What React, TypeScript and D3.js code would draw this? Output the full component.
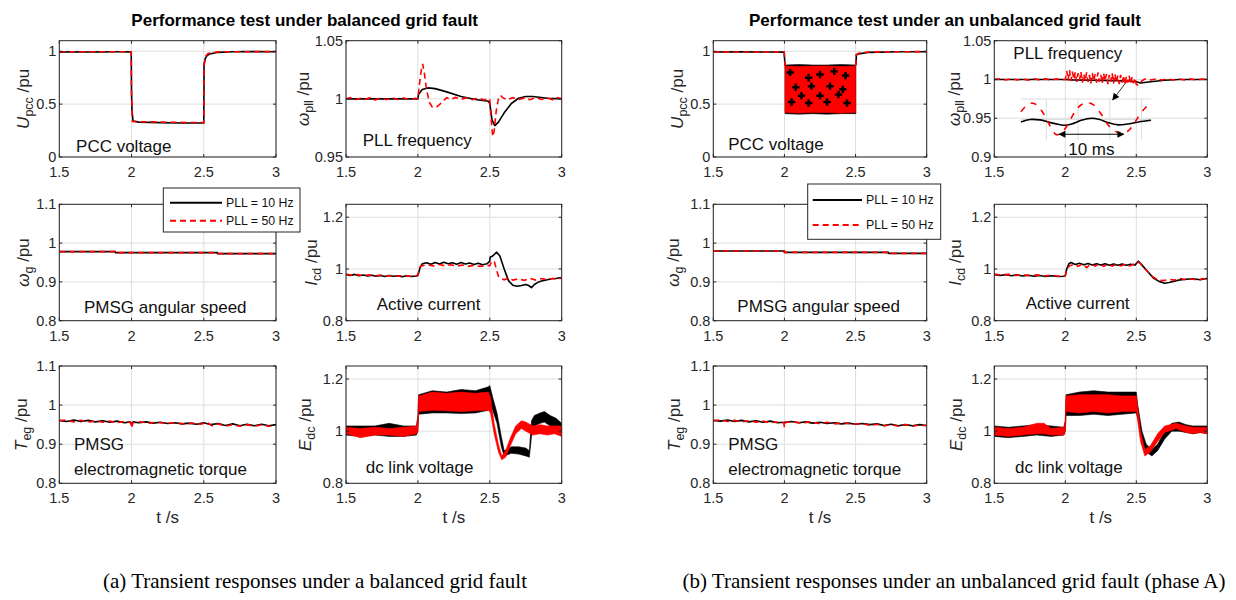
import React from 'react';
import * as d3 from 'd3';

// ===================== DATA =====================
const timeTicks = [1.5, 2, 2.5, 3];
const upccTicks = [0, 0.5, 1];
const pllTicksA = [0.95, 1, 1.05];
const pllTicksB = [0.9, 0.95, 1, 1.05];
const unitTicks = [0.8, 0.9, 1, 1.1];
const wideTicks = [0.8, 1, 1.2];
const legendLabels = ['PLL = 10 Hz', 'PLL = 50 Hz'];
const titles = ['Performance test under balanced grid fault', 'Performance test under an unbalanced grid fault'];
const captions = ['(a) Transient responses under a balanced grid fault', '(b) Transient responses under an unbalanced grid fault (phase A)'];

// ---- (a) balanced fault ----
const upccBalK = [[1.5,0.992],[1.6,0.995],[1.7,0.993],[1.8,0.994],[1.9,0.995],[1.998,0.994],[2.0,0.6],[2.003,0.45],[2.01,0.34],[2.05,0.33],[2.2,0.325],[2.35,0.322],[2.5,0.322],[2.502,0.88],[2.51,0.93],[2.52,0.955],[2.54,0.975],[2.6,0.99],[2.7,0.995],[2.8,0.997],[3.0,0.995]];
const upccBalR = [[1.5,0.995],[1.7,0.995],[1.998,0.996],[2.0,0.6],[2.006,0.335],[2.2,0.33],[2.5,0.325],[2.502,0.85],[2.51,0.95],[2.53,0.98],[2.6,0.995],[3.0,0.997]];

const pllBalK = [[1.5,1.0],[1.999,1.0],[2.005,1.004],[2.03,1.008],[2.07,1.0094],[2.12,1.0088],[2.2,1.006],[2.3,1.002],[2.4,0.9995],[2.49,0.998],[2.5,0.996],[2.515,0.982],[2.535,0.977],[2.56,0.98],[2.6,0.988],[2.65,0.996],[2.7,1.0005],[2.75,1.002],[2.8,1.002],[2.9,1.0005],[3.0,1.0]];
const pllBalR = [[1.5,1.0],[1.53,1.001],[1.56,0.999],[1.6,1.0005],[1.63,0.9995],[1.67,1.001],[1.7,0.999],[1.74,1.0008],[1.78,0.9993],[1.82,1.001],[1.86,0.9995],[1.9,1.0008],[1.94,0.9992],[1.98,1.0005],[2.0,1.0],[2.01,1.012],[2.025,1.026],[2.033,1.03],[2.045,1.022],[2.06,1.008],[2.08,0.997],[2.1,0.993],[2.125,0.9925],[2.15,0.995],[2.18,0.9985],[2.2,1.001],[2.23,0.9995],[2.26,1.0012],[2.3,0.9995],[2.34,1.001],[2.38,0.9993],[2.42,1.001],[2.46,0.999],[2.49,1.0005],[2.5,0.999],[2.508,0.985],[2.52,0.9675],[2.53,0.972],[2.545,0.99],[2.56,1.0],[2.575,1.003],[2.59,1.001],[2.62,0.9992],[2.66,1.001],[2.7,0.9995],[2.74,1.0008],[2.78,0.9993],[2.82,1.001],[2.86,0.9995],[2.9,1.0008],[2.94,0.9992],[2.97,1.001],[3.0,1.0]];

const speedBalK = [[1.5,0.978],[1.887,0.978],[1.887,0.9755],[2.594,0.9755],[2.594,0.973],[3.0,0.973]];
const speedBalR = [[1.5,0.978],[1.887,0.978],[1.887,0.9755],[2.594,0.9755],[2.594,0.973],[3.0,0.973]];

const icdBalK = [[1.5,0.978],[1.53,0.975],[1.56,0.979],[1.59,0.974],[1.62,0.977],[1.65,0.973],[1.68,0.976],[1.71,0.972],[1.74,0.975],[1.77,0.971],[1.8,0.975],[1.83,0.972],[1.86,0.974],[1.89,0.97],[1.92,0.974],[1.95,0.971],[1.99,0.973],[2.0,0.975],[2.015,1.005],[2.03,1.02],[2.06,1.024],[2.09,1.018],[2.12,1.025],[2.15,1.019],[2.18,1.026],[2.21,1.02],[2.24,1.024],[2.27,1.018],[2.3,1.025],[2.33,1.019],[2.36,1.023],[2.39,1.017],[2.42,1.022],[2.45,1.016],[2.48,1.02],[2.5,1.03],[2.502,1.045],[2.52,1.05],[2.548,1.065],[2.57,1.05],[2.6,1.0],[2.63,0.955],[2.66,0.937],[2.69,0.933],[2.72,0.936],[2.75,0.94],[2.77,0.936],[2.79,0.928],[2.81,0.94],[2.84,0.95],[2.87,0.955],[2.9,0.958],[2.93,0.962],[2.96,0.963],[3.0,0.967]];
const icdBalR = [[1.5,0.98],[1.54,0.976],[1.58,0.978],[1.62,0.974],[1.66,0.977],[1.7,0.973],[1.74,0.976],[1.78,0.973],[1.82,0.975],[1.86,0.972],[1.9,0.975],[1.95,0.972],[1.99,0.974],[2.0,0.978],[2.01,1.005],[2.03,1.013],[2.07,1.016],[2.11,1.012],[2.15,1.017],[2.19,1.012],[2.23,1.016],[2.27,1.011],[2.31,1.015],[2.35,1.01],[2.39,1.014],[2.43,1.01],[2.47,1.013],[2.5,1.013],[2.51,1.025],[2.53,1.032],[2.545,1.0],[2.56,0.972],[2.58,0.962],[2.6,0.958],[2.63,0.965],[2.66,0.957],[2.7,0.962],[2.74,0.956],[2.78,0.964],[2.82,0.957],[2.86,0.963],[2.9,0.958],[2.94,0.964],[2.97,0.96],[3.0,0.965]];

const teBalK = [[1.5,0.961],[1.55,0.958],[1.6,0.962],[1.65,0.958],[1.7,0.961],[1.75,0.957],[1.8,0.96],[1.85,0.956],[1.9,0.959],[1.95,0.955],[1.99,0.957],[2.0,0.952],[2.01,0.957],[2.05,0.955],[2.1,0.957],[2.15,0.954],[2.2,0.956],[2.25,0.953],[2.3,0.955],[2.35,0.952],[2.4,0.954],[2.45,0.951],[2.5,0.955],[2.55,0.95],[2.6,0.953],[2.65,0.948],[2.7,0.952],[2.75,0.947],[2.8,0.951],[2.85,0.947],[2.9,0.951],[2.95,0.947],[3.0,0.95]];
const teBalR = [[1.5,0.96],[1.55,0.962],[1.6,0.957],[1.65,0.961],[1.7,0.956],[1.75,0.96],[1.8,0.956],[1.85,0.959],[1.9,0.955],[1.95,0.958],[1.995,0.955],[2.0,0.941],[2.01,0.955],[2.06,0.957],[2.12,0.954],[2.18,0.956],[2.24,0.953],[2.3,0.955],[2.36,0.952],[2.42,0.954],[2.48,0.951],[2.52,0.956],[2.56,0.947],[2.6,0.952],[2.65,0.946],[2.7,0.95],[2.75,0.946],[2.8,0.95],[2.85,0.946],[2.9,0.95],[2.95,0.946],[3.0,0.948]];

// dc-link voltage ripple bands: [t, low, high]
const edcBalK = [[1.5,0.985,1.02],[1.6,0.98,1.02],[1.7,0.985,1.02],[1.8,0.98,1.03],[1.9,0.98,1.02],[1.99,0.985,1.02],[2.0,1.0,1.06],[2.005,1.065,1.14],[2.1,1.07,1.155],[2.2,1.07,1.15],[2.3,1.068,1.16],[2.4,1.07,1.155],[2.49,1.08,1.17],[2.5,1.1,1.175],[2.52,1.08,1.13],[2.55,1.03,1.07],[2.58,0.94,0.98],[2.6,0.905,0.925],[2.65,0.915,0.94],[2.7,0.912,0.94],[2.75,0.905,0.935],[2.775,0.9,0.925],[2.79,0.98,1.04],[2.81,1.02,1.06],[2.85,1.03,1.07],[2.88,1.035,1.075],[2.92,1.02,1.06],[2.96,1.01,1.05],[3.0,0.99,1.03]];
const edcBalR = [[1.5,0.99,1.015],[1.6,0.975,1.01],[1.7,0.985,1.015],[1.8,0.985,1.01],[1.9,0.98,1.015],[1.99,0.99,1.02],[2.0,1.0,1.05],[2.005,1.075,1.135],[2.1,1.08,1.15],[2.2,1.078,1.145],[2.3,1.075,1.15],[2.4,1.078,1.145],[2.49,1.08,1.15],[2.505,1.07,1.13],[2.53,0.99,1.03],[2.56,0.92,0.95],[2.583,0.89,0.905],[2.61,0.9,0.925],[2.64,0.94,0.97],[2.68,0.99,1.02],[2.72,1.01,1.04],[2.75,1.0,1.035],[2.8,0.985,1.02],[2.85,0.99,1.025],[2.9,0.985,1.02],[2.95,0.99,1.02],[3.0,0.98,1.02]];

// ---- (b) unbalanced fault ----
const upccUnbPreK = [[1.5,0.993],[1.7,0.994],[1.9,0.993],[1.998,0.992],[2.004,0.87]];
const upccUnbBandK = [[2.004,0.41,0.87],[2.1,0.405,0.875],[2.2,0.41,0.87],[2.3,0.405,0.87],[2.4,0.41,0.875],[2.502,0.41,0.87]];
const upccUnbPostK = [[2.502,0.87],[2.506,0.965],[2.52,0.975],[2.6,0.99],[2.8,0.995],[3.0,0.996]];
const upccUnbCrossK = [[2.04,0.8],[2.17,0.75],[2.25,0.78],[2.35,0.81],[2.43,0.77],[2.08,0.66],[2.19,0.67],[2.32,0.67],[2.41,0.64],[2.12,0.58],[2.25,0.58],[2.38,0.59],[2.05,0.52],[2.17,0.51],[2.3,0.52],[2.44,0.51]];
const upccUnbPreR = [[1.5,0.995],[1.7,0.993],[1.9,0.995],[1.998,0.994],[2.004,0.86]];
const upccUnbBandR = [[2.004,0.42,0.86],[2.1,0.415,0.855],[2.2,0.42,0.86],[2.3,0.42,0.86],[2.4,0.415,0.855],[2.5,0.42,0.86]];
const upccUnbPostR = [[2.5,0.86],[2.505,0.97],[2.53,0.985],[2.6,0.994],[3.0,0.997]];

const pllUnbK = [[1.5,1.0],[2.0,1.0],[2.05,0.9995],[2.2,0.999],[2.35,0.9985],[2.45,0.998],[2.5,0.997],[2.53,0.9955],[2.6,0.997],[2.7,0.999],[2.8,1.0],[3.0,1.0]];
const pllUnbR = [[1.5,1.0],[1.54,1.0008],[1.58,0.9994],[1.62,1.001],[1.66,0.9993],[1.7,1.0006],[1.74,0.9992],[1.78,1.0009],[1.82,0.9994],[1.86,1.0007],[1.9,0.9993],[1.94,1.0008],[1.98,0.9995],[2.0,1.0],[2.01,1.011],[2.02,0.999],[2.03,1.012],[2.04,0.998],[2.05,1.01],[2.06,1.0],[2.07,1.009],[2.08,0.997],[2.09,1.008],[2.1,0.999],[2.11,1.01],[2.12,0.996],[2.13,1.007],[2.14,0.998],[2.15,1.009],[2.16,0.997],[2.17,1.006],[2.18,0.995],[2.19,1.008],[2.2,0.998],[2.21,1.007],[2.22,0.996],[2.23,1.009],[2.24,0.997],[2.25,1.006],[2.26,0.995],[2.27,1.008],[2.28,0.998],[2.29,1.007],[2.3,0.994],[2.31,1.006],[2.32,0.997],[2.33,1.008],[2.34,0.995],[2.35,1.007],[2.36,0.996],[2.37,1.005],[2.38,0.994],[2.39,1.006],[2.4,0.996],[2.41,1.005],[2.42,0.993],[2.43,1.004],[2.44,0.996],[2.45,1.005],[2.46,0.994],[2.47,1.003],[2.48,0.995],[2.49,1.002],[2.5,0.994],[2.51,0.993],[2.53,0.997],[2.56,1.0005],[2.6,0.9993],[2.64,1.0008],[2.68,0.9994],[2.72,1.0007],[2.76,0.9993],[2.8,1.0008],[2.84,0.9994],[2.88,1.0007],[2.92,0.9994],[2.96,1.0006],[3.0,1.0]];

// zoomed detail of the PLL frequency ripple: [ms, pu]
const insetK = [[0,0.9994],[1.4,1.0],[3,0.9999],[4.5,0.9993],[6,0.9988],[6.9,0.9986],[8,0.9989],[9.5,0.9998],[11.1,1.0003],[12.4,1.0],[13.8,0.9992],[15.3,0.9987],[16.8,0.9989],[18.5,0.9994],[20.5,0.9998]];
const insetR = [[0,1.0019],[0.8,1.0033],[1.7,1.004],[2.6,1.0034],[3.6,1.0013],[4.6,0.9984],[5.6,0.9963],[6.6,0.9971],[7.6,0.9994],[8.7,1.0024],[9.7,1.0038],[10.6,1.0041],[11.5,1.0035],[12.7,1.0012],[14.0,0.9982],[15.9,0.9965],[16.9,0.9972],[17.9,0.9992],[19.1,1.002],[20.3,1.0039]];
const insetMsTicks = [4, 9, 14, 19];
const insetPuTicks = [1.0, 1.005];
const periodArrow = [[6.0, 0.9964], [16.2, 0.9964]];
const periodLabel = '10 ms';
const pointerArrow = [[2.432, 0.9973], [2.334, 0.9737]];

const speedUnbK = [[1.5,0.9795],[2.0,0.9795],[2.0,0.976],[2.73,0.976],[2.73,0.9736],[3.0,0.9736]];
const speedUnbR = [[1.5,0.9795],[2.0,0.9795],[2.0,0.976],[2.73,0.976],[2.73,0.9736],[3.0,0.9736]];

const icdUnbK = [[1.5,0.978],[1.54,0.975],[1.58,0.978],[1.62,0.974],[1.66,0.977],[1.7,0.973],[1.74,0.976],[1.78,0.972],[1.82,0.975],[1.86,0.971],[1.9,0.974],[1.95,0.971],[1.99,0.972],[2.0,0.975],[2.01,1.0],[2.025,1.02],[2.04,1.025],[2.07,1.017],[2.1,1.022],[2.13,1.016],[2.16,1.021],[2.19,1.015],[2.22,1.02],[2.25,1.015],[2.28,1.02],[2.31,1.014],[2.34,1.019],[2.37,1.014],[2.4,1.019],[2.43,1.014],[2.46,1.018],[2.49,1.015],[2.515,1.03],[2.54,1.015],[2.58,0.99],[2.62,0.965],[2.66,0.952],[2.7,0.945],[2.73,0.948],[2.77,0.953],[2.81,0.958],[2.85,0.96],[2.9,0.962],[2.95,0.958],[3.0,0.963]];
const icdUnbR = [[1.5,0.98],[1.55,0.976],[1.6,0.979],[1.65,0.975],[1.7,0.978],[1.75,0.974],[1.8,0.977],[1.85,0.973],[1.9,0.976],[1.95,0.972],[2.0,0.974],[2.01,0.998],[2.03,1.012],[2.06,1.018],[2.09,1.01],[2.12,1.02],[2.15,1.005],[2.18,1.019],[2.21,1.011],[2.24,1.02],[2.27,1.01],[2.3,1.018],[2.33,1.011],[2.36,1.019],[2.39,1.012],[2.42,1.017],[2.45,1.011],[2.48,1.018],[2.51,1.028],[2.53,1.02],[2.57,0.995],[2.61,0.972],[2.65,0.958],[2.69,0.955],[2.73,0.96],[2.77,0.957],[2.81,0.963],[2.85,0.958],[2.89,0.962],[2.93,0.957],[2.97,0.963],[3.0,0.96]];

const teUnbK = [[1.5,0.961],[1.55,0.959],[1.6,0.962],[1.65,0.958],[1.7,0.961],[1.75,0.957],[1.8,0.96],[1.85,0.956],[1.9,0.959],[1.95,0.955],[2.0,0.956],[2.05,0.958],[2.1,0.955],[2.15,0.957],[2.2,0.954],[2.25,0.956],[2.3,0.953],[2.35,0.955],[2.4,0.952],[2.45,0.954],[2.5,0.951],[2.55,0.953],[2.6,0.95],[2.65,0.952],[2.7,0.948],[2.75,0.951],[2.8,0.947],[2.85,0.95],[2.9,0.947],[2.95,0.95],[3.0,0.948]];
const teUnbR = [[1.5,0.96],[1.55,0.962],[1.6,0.958],[1.65,0.961],[1.7,0.957],[1.75,0.96],[1.8,0.956],[1.85,0.959],[1.9,0.955],[1.97,0.957],[1.995,0.955],[2.0,0.943],[2.01,0.956],[2.06,0.957],[2.12,0.954],[2.18,0.957],[2.24,0.953],[2.3,0.956],[2.36,0.952],[2.42,0.955],[2.48,0.951],[2.54,0.953],[2.6,0.948],[2.65,0.951],[2.7,0.947],[2.75,0.95],[2.8,0.946],[2.85,0.95],[2.9,0.946],[2.95,0.949],[3.0,0.947]];

const edcUnbK = [[1.5,0.98,1.02],[1.6,0.975,1.015],[1.7,0.98,1.02],[1.8,0.985,1.025],[1.9,0.98,1.02],[1.99,0.985,1.015],[2.0,1.0,1.04],[2.005,1.06,1.14],[2.1,1.06,1.15],[2.2,1.065,1.155],[2.3,1.06,1.15],[2.4,1.065,1.15],[2.5,1.07,1.15],[2.51,1.05,1.1],[2.54,0.96,1.0],[2.57,0.92,0.95],[2.61,0.905,0.93],[2.65,0.925,0.95],[2.7,0.97,1.0],[2.75,1.0,1.03],[2.8,1.0,1.035],[2.85,0.995,1.025],[2.9,0.99,1.02],[2.95,0.995,1.02],[3.0,0.99,1.02]];
const edcUnbR = [[1.5,0.985,1.015],[1.6,0.98,1.01],[1.7,0.985,1.015],[1.8,0.99,1.03],[1.85,0.99,1.03],[1.9,0.985,1.01],[1.99,0.985,1.015],[2.0,1.0,1.04],[2.005,1.075,1.135],[2.1,1.07,1.14],[2.2,1.075,1.14],[2.3,1.07,1.14],[2.4,1.075,1.135],[2.5,1.075,1.135],[2.51,1.04,1.09],[2.53,0.96,1.0],[2.56,0.905,0.93],[2.6,0.92,0.945],[2.65,0.96,0.99],[2.7,0.995,1.02],[2.78,1.01,1.03],[2.85,0.995,1.02],[2.9,0.99,1.015],[2.95,0.995,1.015],[3.0,0.99,1.015]];

// ===================== LAYOUT / STYLE =====================
const W = 1236, H = 600;
const FONT = 'Liberation Sans, Arial, Helvetica, sans-serif';
const SERIF = 'Liberation Serif, Times New Roman, serif';
const INK = '#262626';
const GRID = '#dedede';
const RED = '#ff0000';
const T_DOMAIN = [1.5, 3];
const TICK_FS = 14.5;
const COLS = { aL: [59.3, 276], aR: [346, 561.7], bL: [713.3, 926.7], bR: [994.3, 1207.3] };
const ROWS = [[40.7, 157], [204.3, 320.7], [366, 483.3]];

const panels = [
  { id: 'a1', col: COLS.aL, row: ROWS[0], yDomain: [0, 1.1], yTicks: upccTicks, sym: 'U', sub: 'pcc', lab: 30, note: ['PCC voltage'], noteAt: [1.616, 0.05], k: [upccBalK], r: [upccBalR] },
  { id: 'a2', col: COLS.aR, row: ROWS[0], yDomain: [0.95, 1.05], yTicks: pllTicksA, sym: 'ω', sub: 'pll', lab: 37, note: ['PLL frequency'], noteAt: [1.616, 0.9591], k: [pllBalK], r: [pllBalR] },
  { id: 'a3', col: COLS.aL, row: ROWS[1], yDomain: [0.8, 1.1], yTicks: unitTicks, sym: 'ω', sub: 'g', lab: 30, note: ['PMSG angular speed'], noteAt: [1.671, 0.8206], k: [speedBalK], r: [speedBalR] },
  { id: 'a4', col: COLS.aR, row: ROWS[1], yDomain: [0.8, 1.25], yTicks: wideTicks, sym: 'I', sub: 'cd', lab: 29, note: ['Active current'], noteAt: [1.713, 0.841], k: [icdBalK], r: [icdBalR] },
  { id: 'a5', col: COLS.aL, row: ROWS[2], yDomain: [0.8, 1.1], yTicks: unitTicks, sym: 'T', sub: 'eg', lab: 32, note: ['PMSG', 'electromagnetic torque'], noteAt: [1.602, 0.885], k: [teBalK], r: [teBalR], xlab: true },
  { id: 'a6', col: COLS.aR, row: ROWS[2], yDomain: [0.8, 1.25], yTicks: wideTicks, sym: 'E', sub: 'dc', lab: 35, note: ['dc link voltage'], noteAt: [1.637, 0.841], kb: [edcBalK], rb: [edcBalR], xlab: true },
  { id: 'b1', col: COLS.bL, row: ROWS[0], yDomain: [0, 1.1], yTicks: upccTicks, sym: 'U', sub: 'pcc', lab: 30, note: ['PCC voltage'], noteAt: [1.605, 0.067], k: [upccUnbPreK, upccUnbPostK], kb: [upccUnbBandK], r: [upccUnbPreR, upccUnbPostR], rb: [upccUnbBandR], kx: upccUnbCrossK },
  { id: 'b2', col: COLS.bR, row: ROWS[0], yDomain: [0.9, 1.05], yTicks: pllTicksB, sym: 'ω', sub: 'pll', lab: 34, note: ['PLL frequency'], noteAt: [1.634, 1.026], k: [pllUnbK], r: [pllUnbR], inset: true },
  { id: 'b3', col: COLS.bL, row: ROWS[1], yDomain: [0.8, 1.1], yTicks: unitTicks, sym: 'ω', sub: 'g', lab: 34, note: ['PMSG angular speed'], noteAt: [1.669, 0.823], k: [speedUnbK], r: [speedUnbR] },
  { id: 'b4', col: COLS.bR, row: ROWS[1], yDomain: [0.8, 1.25], yTicks: wideTicks, sym: 'I', sub: 'cd', lab: 33, note: ['Active current'], noteAt: [1.721, 0.844], k: [icdUnbK], r: [icdUnbR] },
  { id: 'b5', col: COLS.bL, row: ROWS[2], yDomain: [0.8, 1.1], yTicks: unitTicks, sym: 'T', sub: 'eg', lab: 33, note: ['PMSG', 'electromagnetic torque'], noteAt: [1.605, 0.885], k: [teUnbK], r: [teUnbR], xlab: true },
  { id: 'b6', col: COLS.bR, row: ROWS[2], yDomain: [0.8, 1.25], yTicks: wideTicks, sym: 'E', sub: 'dc', lab: 32, note: ['dc link voltage'], noteAt: [1.646, 0.841], kb: [edcUnbK], rb: [edcUnbR], xlab: true },
];

const fmt = (v: number) => String(+v.toFixed(2));

function Panel({ p }: { p: any }) {
  const [x0, x1] = p.col;
  const [y0, y1] = p.row;
  const x = d3.scaleLinear().domain(T_DOMAIN).range([x0, x1]);
  const y = d3.scaleLinear().domain(p.yDomain).range([y1, y0]);
  const ln = d3.line<number[]>().x(d => x(d[0])).y(d => y(d[1]));
  const ar = d3.area<number[]>().x(d => x(d[0])).y0(d => y(d[1])).y1(d => y(d[2]));
  const cross = d3.symbol().type(d3.symbolCross).size(30);
  const clip = `clip-${p.id}`;
  const TL = 3;
  return (
    <g>
      <defs>
        <clipPath id={clip}><rect x={x0} y={y0} width={x1 - x0} height={y1 - y0} /></clipPath>
      </defs>
      <rect x={x0} y={y0} width={x1 - x0} height={y1 - y0} fill="#fff" />
      {timeTicks.map(t => <line key={'gx' + t} x1={x(t)} x2={x(t)} y1={y0} y2={y1} stroke={GRID} strokeWidth={1} />)}
      {p.yTicks.map((v: number) => <line key={'gy' + v} x1={x0} x2={x1} y1={y(v)} y2={y(v)} stroke={GRID} strokeWidth={1} />)}
      {p.inset && <Inset x={x} y={y} />}
      <g clipPath={`url(#${clip})`}>
        {(p.kb || []).map((b: number[][], i: number) => <path key={'kb' + i} d={ar(b) || ''} fill="#000" stroke="#000" strokeWidth={0.6} />)}
        {(p.k || []).map((l: number[][], i: number) => <path key={'k' + i} d={ln(l) || ''} fill="none" stroke="#000" strokeWidth={1.6} strokeLinejoin="round" />)}
        {(p.rb || []).map((b: number[][], i: number) => <path key={'rb' + i} d={ar(b) || ''} fill={RED} stroke={RED} strokeWidth={0.6} />)}
        {(p.r || []).map((l: number[][], i: number) => <path key={'r' + i} d={ln(l) || ''} fill="none" stroke={RED} strokeWidth={1.6} strokeDasharray="6,4" />)}
        {(p.kx || []).map((d: number[], i: number) => <path key={'kx' + i} d={cross() || ''} transform={`translate(${x(d[0])},${y(d[1])})`} fill="#000" />)}
      </g>
      <rect x={x0} y={y0} width={x1 - x0} height={y1 - y0} fill="none" stroke={INK} strokeWidth={1} />
      {timeTicks.map(t => (
        <g key={'tx' + t}>
          <line x1={x(t)} x2={x(t)} y1={y1} y2={y1 - TL} stroke={INK} />
          <line x1={x(t)} x2={x(t)} y1={y0} y2={y0 + TL} stroke={INK} />
          <text x={x(t)} y={y1 + 20} textAnchor="middle" fontSize={TICK_FS} fill={INK} fontFamily={FONT}>{fmt(t)}</text>
        </g>
      ))}
      {p.yTicks.map((v: number) => (
        <g key={'ty' + v}>
          <line x1={x0} x2={x0 + TL} y1={y(v)} y2={y(v)} stroke={INK} />
          <line x1={x1} x2={x1 - TL} y1={y(v)} y2={y(v)} stroke={INK} />
          <text x={x0 - 3} y={y(v) + 5} textAnchor="end" fontSize={TICK_FS} fill={INK} fontFamily={FONT}>{fmt(v)}</text>
        </g>
      ))}
      <text transform={`translate(${x0 - p.lab},${(y0 + y1) / 2}) rotate(-90)`} textAnchor="middle" fontSize={17} fill={INK} fontFamily={FONT}>
        <tspan fontStyle="italic">{p.sym}</tspan>
        <tspan fontSize={12.5} dy={4}>{p.sub}</tspan>
        <tspan dy={-4}>{'  /pu'}</tspan>
      </text>
      {p.note.map((s: string, i: number) => (
        <text key={'n' + i} x={x(p.noteAt[0])} y={y(p.noteAt[1]) + i * 25} fontSize={17} fill="#111" fontFamily={FONT}>{s}</text>
      ))}
      {p.xlab && <text x={(x0 + x1) / 2} y={523} textAnchor="middle" fontSize={17} fill={INK} fontFamily={FONT}>t /s</text>}
    </g>
  );
}

function Inset({ x, y }: { x: any; y: any }) {
  const ix = d3.scaleLinear().domain([0, 20.5]).range([1021, 1151]);
  const iy = d3.scaleLinear().domain([0.995, 1.005]).range([140, 99]);
  const ln = d3.line<number[]>().x(d => ix(d[0])).y(d => iy(d[1])).curve(d3.curveCatmullRom);
  return (
    <g>
      {insetMsTicks.map(t => <line key={'im' + t} x1={ix(t)} x2={ix(t)} y1={iy(1.005)} y2={iy(0.995)} stroke={GRID} />)}
      {insetPuTicks.map(v => <line key={'ip' + v} x1={ix(0)} x2={ix(20.5)} y1={iy(v)} y2={iy(v)} stroke={GRID} />)}
      <path d={ln(insetK) || ''} fill="none" stroke="#000" strokeWidth={1.6} />
      <path d={ln(insetR) || ''} fill="none" stroke={RED} strokeWidth={1.6} strokeDasharray="6,7" />
      <line x1={ix(periodArrow[0][0])} y1={iy(periodArrow[0][1])} x2={ix(periodArrow[1][0])} y2={iy(periodArrow[1][1])}
        stroke="#000" strokeWidth={1} markerStart="url(#ahead)" markerEnd="url(#ahead)" />
      <text x={ix((periodArrow[0][0] + periodArrow[1][0]) / 2)} y={iy(0.99134)} textAnchor="middle" fontSize={17} fill="#111" fontFamily={FONT}>{periodLabel}</text>
      <line x1={x(pointerArrow[0][0])} y1={y(pointerArrow[0][1])} x2={x(pointerArrow[1][0])} y2={y(pointerArrow[1][1])}
        stroke="#333" strokeWidth={1} markerEnd="url(#ahead)" />
    </g>
  );
}

function Legend({ box, rows, line }: { box: number[]; rows: number[]; line: number[] }) {
  return (
    <g>
      <rect x={box[0]} y={box[1]} width={box[2] - box[0]} height={box[3] - box[1]} fill="#fff" stroke={INK} strokeWidth={1} />
      <line x1={line[0]} x2={line[1]} y1={rows[0]} y2={rows[0]} stroke="#000" strokeWidth={2} />
      <line x1={line[0]} x2={line[1]} y1={rows[1]} y2={rows[1]} stroke={RED} strokeWidth={2} strokeDasharray="6,4" />
      <text x={line[1] + 4} y={rows[0] + 4.3} fontSize={12.3} fill="#111" fontFamily={FONT}>{legendLabels[0]}</text>
      <text x={line[1] + 4} y={rows[1] + 4.3} fontSize={12.3} fill="#111" fontFamily={FONT}>{legendLabels[1]}</text>
    </g>
  );
}

export default function App() {
  return (
    <svg width={W} height={H} viewBox={`0 0 ${W} ${H}`} style={{ position: 'absolute', left: 0, top: 0, background: '#fff' }}>
      <defs>
        <marker id="ahead" viewBox="0 0 10 10" refX="9" refY="5" markerWidth="9" markerHeight="7" orient="auto-start-reverse" markerUnits="userSpaceOnUse">
          <path d="M0,0 L10,5 L0,10 z" fill="#000" />
        </marker>
      </defs>
      <rect x={0} y={0} width={W} height={H} fill="#fff" />
      <text x={304.7} y={26} textAnchor="middle" fontSize={17} fontWeight="bold" fill="#000" fontFamily={FONT}>{titles[0]}</text>
      <text x={945} y={26} textAnchor="middle" fontSize={17} fontWeight="bold" fill="#000" fontFamily={FONT}>{titles[1]}</text>
      {panels.map(p => <Panel key={p.id} p={p} />)}
      <Legend box={[163.3, 188, 300, 232]} rows={[202.7, 220.7]} line={[170, 222]} />
      <Legend box={[807.7, 184, 940.7, 239.3]} rows={[200, 225]} line={[812.7, 862]} />
      <text x={315} y={588} textAnchor="middle" fontSize={21} fill="#000" fontFamily={SERIF}>{captions[0]}</text>
      <text x={954} y={588} textAnchor="middle" fontSize={21} fill="#000" fontFamily={SERIF}>{captions[1]}</text>
    </svg>
  );
}
